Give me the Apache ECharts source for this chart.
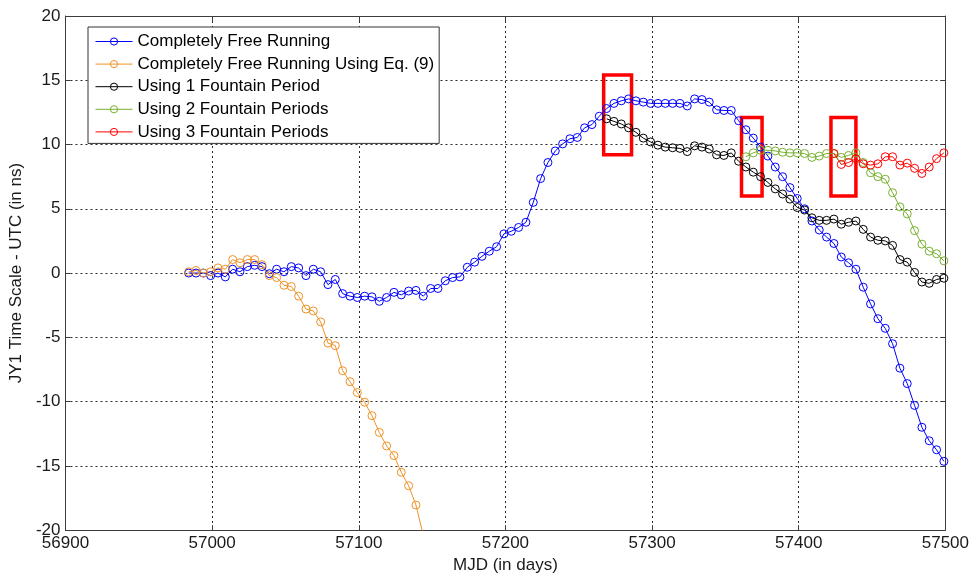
<!DOCTYPE html>
<html>
<head>
<meta charset="utf-8">
<title>JY1 Time Scale - UTC</title>
<script src="https://cdn.jsdelivr.net/npm/echarts@6/dist/echarts.min.js"></script>
<style>
  html, body { margin: 0; padding: 0; background: #fff; }
  #chart { width: 972px; height: 579px; }
</style>
</head>
<body>
<div id="chart"></div>
<script>
// Sample epochs (MJD, days) of the free-running scale
const mjd = [
  56984, 56989, 56994, 56999, 57004, 57009, 57014, 57019, 57024, 57029,
  57034, 57039, 57044, 57049, 57054, 57059, 57064, 57069, 57074, 57079,
  57084, 57089, 57094, 57099, 57104, 57109, 57114, 57119, 57124, 57129,
  57134, 57139, 57144, 57149, 57154, 57159, 57164, 57169, 57174, 57179,
  57184, 57189, 57194, 57199, 57204, 57209, 57214, 57219, 57224, 57229,
  57234, 57239, 57244, 57249, 57254, 57259, 57264, 57269, 57274, 57279,
  57284, 57289, 57294, 57299, 57304, 57309, 57314, 57319, 57324, 57329,
  57334, 57339, 57344, 57349, 57354, 57359, 57364, 57369, 57374, 57379,
  57384, 57389, 57394, 57399, 57404, 57409, 57414, 57419, 57424, 57429,
  57434, 57439, 57444, 57449, 57454, 57459, 57464, 57469, 57474, 57479,
  57484, 57489, 57494, 57499
];

// Completely free running (ns)
const freeRunning = [
  0.0, 0.0, 0.0, -0.2, 0.0, -0.3, 0.3, 0.1, 0.5, 0.6,
  0.5, -0.05, 0.3, 0.1, 0.5, 0.4, -0.2, 0.3, 0.1, -0.9,
  -0.5, -1.6, -1.8, -1.9, -1.8, -1.85, -2.2, -1.9, -1.5, -1.7,
  -1.4, -1.35, -1.8, -1.2, -1.2, -0.6, -0.35, -0.3, 0.45, 0.85,
  1.3, 1.7, 2.05, 3.05, 3.25, 3.55, 3.95, 5.5, 7.35, 8.6,
  9.5, 10.05, 10.45, 10.55, 11.3, 11.55, 12.2, 12.8, 13.2, 13.4,
  13.55, 13.4, 13.3, 13.2, 13.2, 13.2, 13.2, 13.2, 13.0, 13.55,
  13.5, 13.3, 12.7, 12.65, 12.65, 11.85, 11.15, 10.5, 9.8, 9.1,
  8.25, 7.5, 6.65, 5.8, 5.0, 4.05, 3.35, 2.8, 2.3, 1.25,
  0.8, 0.3, -1.1, -2.4, -3.55, -4.3, -5.5, -7.4, -8.6, -10.3,
  -12.0, -13.05, -13.75, -14.65
];

// Completely free running using Eq. (9), from the first epoch
const freeRunningEq9 = [
  0.1, 0.2, 0.0, 0.1, 0.4, 0.3, 1.05, 0.8, 1.05, 1.05,
  0.65, -0.2, -0.35, -0.95, -1.05, -1.8, -2.8, -2.95, -3.8, -5.45,
  -5.65, -7.6, -8.45, -9.3, -10.05, -11.1, -12.4, -13.45, -14.2, -15.5,
  -16.55, -18.05, -20.4
];

// Steered with one fountain period, from MJD 57269
const oneFountain = [
  12.0, 11.8, 11.6, 11.3, 10.95, 10.5, 10.2, 9.95, 9.8, 9.75,
  9.7, 9.45, 9.9, 9.8, 9.65, 9.2, 9.15, 9.35, 8.7, 8.25,
  7.85, 7.5, 7.05, 6.55, 6.15, 5.75, 5.1, 4.9, 4.3, 4.1,
  4.1, 4.2, 3.8, 3.95, 4.05, 3.4, 2.8, 2.55, 2.5, 2.15,
  1.05, 0.85, 0.05, -0.7, -0.8, -0.5, -0.4
];

// Steered with two fountain periods, from MJD 57364
const twoFountain = [
  9.05, 9.35, 9.55, 9.55, 9.5, 9.4, 9.35, 9.35, 9.3, 9.0,
  9.1, 9.3, 9.3, 9.0, 9.15, 9.35, 8.6, 7.8, 7.5, 7.3,
  6.25, 5.15, 4.6, 3.3, 2.25, 1.7, 1.5, 0.95
];

// Steered with three fountain periods, from MJD 57424
const threeFountain = [
  9.3, 8.45, 8.6, 8.9, 8.5, 8.4, 8.5, 9.05, 9.05, 8.4,
  8.55, 8.15, 7.75, 8.25, 8.9, 9.35
];

// Highlighted intervals: [MJD from, MJD to, ns low, ns high]
const highlightBoxes = [
  [57267, 57286, 9.2, 15.4],
  [57361, 57375, 6.0, 12.1],
  [57422, 57439, 6.0, 12.1]
];

const seriesNames = [
  'Completely Free Running',
  'Completely Free Running Using Eq. (9)',
  'Using 1 Fountain Period',
  'Using 2 Fountain Periods',
  'Using 3 Fountain Periods'
];

const xTicks = { min: 56900, max: 57500, step: 100 };
const yTicks = { min: -20, max: 20, step: 5 };

function pairs(values, days) {
  return values.map((v, i) => [days[i], v]);
}

const colors = ['#0000ff', '#ef9226', '#000000', '#78b030', '#ff0000'];
const FONT = 'Liberation Sans, Arial, sans-serif';
const frameColor = '#3c3c3c';
const labelColor = '#1a1a1a';

// hollow circle markers, the connecting line stays visible through them
const lineSeries = (name, color, data) => ({
  name: name,
  type: 'line',
  data: data,
  symbol: 'circle',
  symbolSize: 8,
  showAllSymbol: true,
  clip: true,
  color: color,
  lineStyle: { color: color, width: 1 },
  itemStyle: { color: 'rgba(255,255,255,0)', borderColor: color, borderWidth: 1 },
  emphasis: { disabled: true },
  animation: false
});

const gridLine = { show: true, lineStyle: { color: '#2a2a2a', type: [2, 3], width: 1 } };
const plainNumber = v => String(v);

const chart = echarts.init(document.getElementById('chart'), null, { renderer: 'canvas' });

chart.setOption({
  backgroundColor: '#ffffff',
  animation: false,
  grid: { left: 65, right: 25, top: 16, bottom: 45, containLabel: false },
  legend: {
    data: seriesNames,
    orient: 'vertical',
    left: 88,
    top: 27,
    backgroundColor: '#ffffff',
    borderColor: '#333333',
    borderWidth: 1,
    padding: [6, 5, 3, 7],
    itemWidth: 37,
    itemHeight: 9,
    itemGap: 5.6,
    selectedMode: false,
    lineStyle: { width: 1 },
    itemStyle: { borderWidth: 1 },
    textStyle: { fontFamily: FONT, fontSize: 17, lineHeight: 17, color: '#000' }
  },
  xAxis: [
    {
      type: 'value',
      min: xTicks.min, max: xTicks.max, interval: xTicks.step,
      name: 'MJD (in days)',
      nameLocation: 'middle',
      nameGap: 26,
      nameTextStyle: { fontFamily: FONT, fontSize: 17, color: labelColor },
      axisLine: { show: true, onZero: false, lineStyle: { color: frameColor, width: 1 } },
      axisTick: { show: true, inside: true, length: 5, lineStyle: { color: frameColor } },
      axisLabel: { fontFamily: FONT, fontSize: 17, color: labelColor, margin: 5, formatter: plainNumber, showMinLabel: true, showMaxLabel: true },
      splitLine: gridLine
    },
    {
      type: 'value',
      position: 'top',
      min: xTicks.min, max: xTicks.max, interval: xTicks.step,
      axisLine: { show: true, onZero: false, lineStyle: { color: frameColor, width: 1 } },
      axisTick: { show: true, inside: true, length: 5, lineStyle: { color: frameColor } },
      axisLabel: { show: false },
      splitLine: { show: false }
    }
  ],
  yAxis: [
    {
      type: 'value',
      min: yTicks.min, max: yTicks.max, interval: yTicks.step,
      name: 'JY1 Time Scale - UTC (in ns)',
      nameLocation: 'middle',
      nameGap: 38,
      nameTextStyle: { fontFamily: FONT, fontSize: 17, color: labelColor },
      axisLine: { show: true, onZero: false, lineStyle: { color: frameColor, width: 1 } },
      axisTick: { show: true, inside: true, length: 5, lineStyle: { color: frameColor } },
      axisLabel: { fontFamily: FONT, fontSize: 17, color: labelColor, margin: 5, formatter: plainNumber, showMinLabel: true, showMaxLabel: true },
      splitLine: gridLine
    },
    {
      type: 'value',
      position: 'right',
      min: yTicks.min, max: yTicks.max, interval: yTicks.step,
      axisLine: { show: true, onZero: false, lineStyle: { color: frameColor, width: 1 } },
      axisTick: { show: true, inside: true, length: 5, lineStyle: { color: frameColor } },
      axisLabel: { show: false },
      splitLine: { show: false }
    }
  ],
  series: [
    lineSeries(seriesNames[0], colors[0], pairs(freeRunning, mjd)),
    lineSeries(seriesNames[1], colors[1], pairs(freeRunningEq9, mjd)),
    lineSeries(seriesNames[2], colors[2], pairs(oneFountain, mjd.slice(57))),
    lineSeries(seriesNames[3], colors[3], pairs(twoFountain, mjd.slice(76))),
    Object.assign(lineSeries(seriesNames[4], colors[4], pairs(threeFountain, mjd.slice(88))), {
      markArea: {
        silent: true,
        label: { show: false },
        itemStyle: { color: 'rgba(0,0,0,0)', borderColor: '#ff0000', borderWidth: 3.5 },
        emphasis: { disabled: true },
        data: highlightBoxes.map(b => [
          { coord: [b[0], b[3]] },
          { coord: [b[1], b[2]] }
        ])
      }
    })
  ]
});
</script>
</body>
</html>
